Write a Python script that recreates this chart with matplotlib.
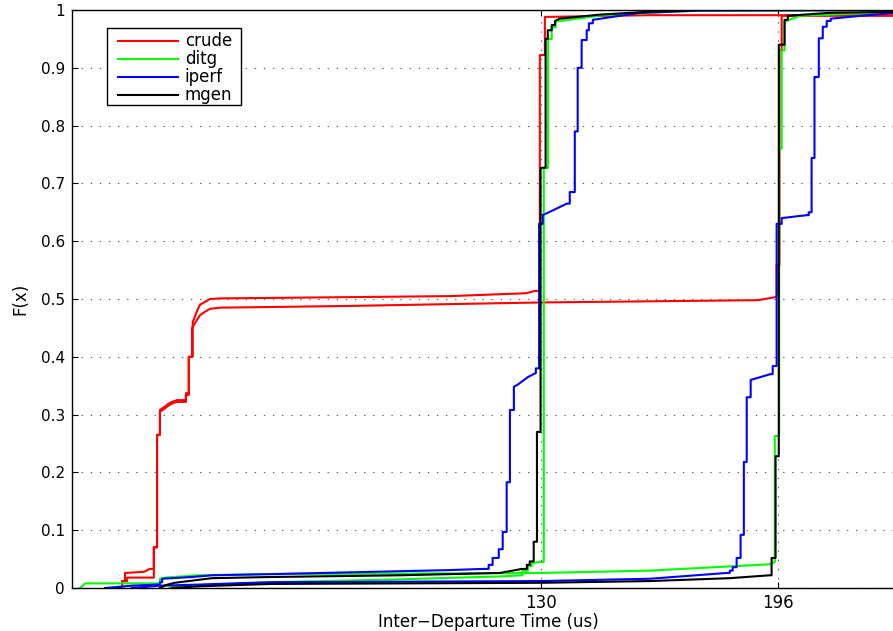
import matplotlib
matplotlib.use('Agg')
import matplotlib.pyplot as plt
from matplotlib.legend_handler import HandlerLine2D
from matplotlib.patches import Rectangle

#------------ donnees (CDF des temps inter-departs) ----------
# chaque outil : une courbe pour la cadence 130 us et une pour 196 us
crude130_x = [12.8, 13.9, 13.9, 14.7, 14.7, 20.0, 21.6, 22.7, 22.7, 23.6, 23.6, 24.4, 24.4, 25.8, 26.6,
              27.7, 29.1, 31.6, 31.6, 32.4, 32.4, 33.5, 33.5, 34.6, 35.5, 36.9, 38.3, 41.0, 105.0, 126.0,
              128.5, 129.8, 129.8, 131.2, 131.2, 160.0, 240.0]
crude130_F = [0.0, 0.0, 0.012, 0.012, 0.026, 0.028, 0.033, 0.033, 0.071, 0.071, 0.265, 0.265, 0.308, 0.314, 0.318,
              0.322, 0.325, 0.325, 0.337, 0.337, 0.40, 0.40, 0.46, 0.478, 0.490, 0.495, 0.500, 0.501, 0.505, 0.510,
              0.514, 0.514, 0.922, 0.922, 0.988, 0.991, 0.991]

crude196_x = [12.8, 13.9, 13.9, 15.3, 15.3, 22.7, 22.7, 23.6, 23.6, 24.4, 24.4, 25.8, 26.6, 27.7, 29.1,
              31.6, 31.6, 32.4, 32.4, 33.3, 33.3, 34.6, 35.5, 36.9, 38.3, 41.0, 77.0, 130.0, 190.4, 194.9,
              195.5, 195.5, 196.3, 196.3, 196.9, 196.9, 240.0]
crude196_F = [0.0, 0.0, 0.012, 0.012, 0.018, 0.018, 0.070, 0.070, 0.265, 0.265, 0.305, 0.311, 0.315, 0.319, 0.322,
              0.322, 0.334, 0.334, 0.40, 0.40, 0.45, 0.463, 0.472, 0.478, 0.483, 0.485, 0.488, 0.494, 0.498, 0.503,
              0.503, 0.559, 0.559, 0.93, 0.93, 0.99, 0.99]

ditg130_x = [27.0, 28.5, 55.0, 91.0, 118.7, 125.0, 125.0, 126.5, 126.5, 127.6, 127.6, 129.5, 130.9, 130.9,
             132.1, 132.1, 133.1, 133.1, 134.2, 134.2, 146.0, 160.0, 174.0, 240.0]
ditg130_F = [0.0, 0.003, 0.010, 0.015, 0.020, 0.022, 0.030, 0.030, 0.038, 0.038, 0.043, 0.045, 0.045, 0.727,
             0.727, 0.95, 0.95, 0.97, 0.97, 0.98, 0.99, 0.995, 0.999, 1.0]

ditg196_x = [2.2, 2.8, 3.6, 24.4, 24.4, 25.8, 35.2, 55.0, 130.0, 160.0, 193.6, 195.0, 195.0, 196.2, 196.2,
             196.9, 196.9, 197.7, 197.7, 202.0, 227.0, 240.0]
ditg196_F = [0.0, 0.003, 0.008, 0.008, 0.016, 0.018, 0.022, 0.024, 0.026, 0.030, 0.041, 0.045, 0.263, 0.263, 0.76,
             0.76, 0.93, 0.93, 0.98, 0.99, 0.996, 0.997]

iperf130_x = [9.2, 16.6, 24.4, 24.4, 25.0, 25.0, 33.3, 38.8, 55.0, 104.8, 114.0, 115.6, 115.6, 116.7, 116.7,
              118.4, 118.4, 119.5, 119.5, 120.6, 120.6, 121.5, 121.5, 122.6, 122.6, 123.7, 126.5, 128.7, 128.7,
              129.6, 129.6, 130.6, 130.6, 137.3, 138.1, 138.1, 139.5, 139.5, 140.3, 140.3, 141.4, 141.4, 142.8,
              142.8, 143.4, 143.4, 144.5, 144.5, 157.5, 174.0, 240.0]
iperf130_F = [0.0, 0.004, 0.006, 0.010, 0.010, 0.016, 0.019, 0.022, 0.024, 0.031, 0.033, 0.033, 0.040, 0.040, 0.052,
              0.052, 0.067, 0.067, 0.097, 0.097, 0.183, 0.183, 0.308, 0.308, 0.348, 0.352, 0.365, 0.372, 0.38,
              0.38, 0.63, 0.63, 0.645, 0.665, 0.665, 0.685, 0.685, 0.79, 0.79, 0.90, 0.90, 0.948, 0.948,
              0.965, 0.965, 0.977, 0.977, 0.983, 0.995, 0.999, 1.0]

iperf196_x = [16.6, 24.4, 35.5, 55.0, 130.0, 160.3, 181.6, 182.5, 182.5, 183.3, 183.3, 184.4, 184.4, 185.5, 185.5,
              186.4, 186.4, 187.2, 187.2, 188.3, 188.3, 189.4, 193.8, 194.4, 194.4, 195.5, 195.5, 196.9, 196.9,
              203.8, 204.4, 204.4, 205.2, 205.2, 206.0, 206.0, 207.2, 207.2, 208.3, 208.3, 209.4, 209.4, 210.5,
              210.5, 227.7, 240.0]
iperf196_F = [0.0, 0.004, 0.006, 0.010, 0.012, 0.016, 0.026, 0.026, 0.030, 0.030, 0.036, 0.036, 0.052, 0.052, 0.092,
              0.092, 0.218, 0.218, 0.33, 0.33, 0.36, 0.362, 0.37, 0.37, 0.384, 0.384, 0.63, 0.63, 0.64,
              0.645, 0.645, 0.65, 0.65, 0.744, 0.744, 0.884, 0.884, 0.951, 0.951, 0.971, 0.971, 0.981, 0.981,
              0.985, 0.995, 0.997]

mgen130_x = [24.4, 26.0, 28.5, 38.8, 55.0, 91.0, 118.7, 124.8, 126.2, 126.2, 127.0, 127.0, 128.1, 128.1, 129.0,
             129.0, 130.0, 130.0, 131.4, 131.4, 132.0, 132.0, 133.1, 133.1, 134.0, 134.0, 135.3, 146.4, 160.3,
             174.0, 240.0]
mgen130_F = [0.0, 0.005, 0.009, 0.017, 0.019, 0.022, 0.026, 0.033, 0.033, 0.040, 0.040, 0.046, 0.046, 0.080, 0.080,
             0.27, 0.27, 0.727, 0.727, 0.95, 0.95, 0.965, 0.965, 0.974, 0.974, 0.981, 0.985, 0.992, 0.997,
             1.0, 1.0]

mgen196_x = [27.7, 35.5, 55.0, 130.0, 160.3, 182.5, 193.6, 194.1, 194.1, 195.2, 195.2, 196.1, 196.1, 197.7, 197.7,
             198.6, 198.6, 210.0, 240.0]
mgen196_F = [0.0, 0.003, 0.007, 0.009, 0.012, 0.017, 0.022, 0.022, 0.052, 0.052, 0.228, 0.228, 0.94, 0.94, 0.983,
             0.983, 0.99, 0.995, 0.998]

x_ticks = [130, 196]
y_ticks = [0, 0.1, 0.2, 0.3, 0.4, 0.5, 0.6, 0.7, 0.8, 0.9, 1]
y_tick_labels = ['0', '0.1', '0.2', '0.3', '0.4', '0.5', '0.6', '0.7', '0.8', '0.9', '1']

#------------ figure ----------
plt.rcParams['font.family'] = ['DejaVu Sans']
plt.rcParams['font.size'] = 12

W, H = 893., 631.
fig = plt.figure(figsize=(W/100, H/100), dpi=100)
# l'axe deborde a droite (coupe dans l'image d'origine)
ax = fig.add_axes([72/W, 43/H, 847/W, 578/H])

lw = 1.5
ax.plot(crude130_x, crude130_F, color='red', lw=lw, label='crude')
ax.plot(crude196_x, crude196_F, color='red', lw=lw)
ax.plot(ditg130_x, ditg130_F, color='#00ff00', lw=lw, label='ditg')
ax.plot(ditg196_x, ditg196_F, color='#00ff00', lw=lw)
ax.plot(iperf130_x, iperf130_F, color='blue', lw=lw, label='iperf')
ax.plot(iperf196_x, iperf196_F, color='blue', lw=lw)
ax.plot(mgen130_x, mgen130_F, color='black', lw=lw, label='mgen')
ax.plot(mgen196_x, mgen196_F, color='black', lw=lw)

ax.set_xlim(0, 235)
ax.set_ylim(0, 1)
ax.set_xticks(x_ticks)
ax.set_xticklabels([str(t) for t in x_ticks])
ax.set_yticks(y_ticks)
ax.set_yticklabels(y_tick_labels)
ax.tick_params(direction='in', length=4, width=0.8, top=True, right=True, pad=5)
ax.tick_params(axis='y', labelsize=11)
ax.tick_params(axis='x', pad=4)

ax.set_axisbelow(True)
ax.grid(True, color='0.35', lw=0.8, linestyle=(0, (1.2, 7)))
for s in ax.spines.values():
  s.set_linewidth(1.0)

ax.set_xlabel('Inter\u2212Departure Time (us)')
ax.xaxis.set_label_coords(0.492, -0.043)
ax.set_ylabel('F(x)', labelpad=8)

#--- legende facon matlab : cadre dessine a part, marges plus larges ---
box = Rectangle((107/W, 1 - 105/H), 134/W, 77/H, transform=fig.transFigure, facecolor='white',
                edgecolor='black', lw=1.0, zorder=4.9, clip_on=False)
ax.add_patch(box)
leg = ax.legend(loc='upper left', bbox_to_anchor=(107/W, 1 - 30/H), bbox_transform=fig.transFigure,
                borderaxespad=0, frameon=False, handlelength=4.1,
                labelspacing=0.0, borderpad=0.15, handletextpad=0.42,
                handler_map={matplotlib.lines.Line2D: HandlerLine2D(xpad=0.5)})

fig.savefig('out.png', dpi=100)
